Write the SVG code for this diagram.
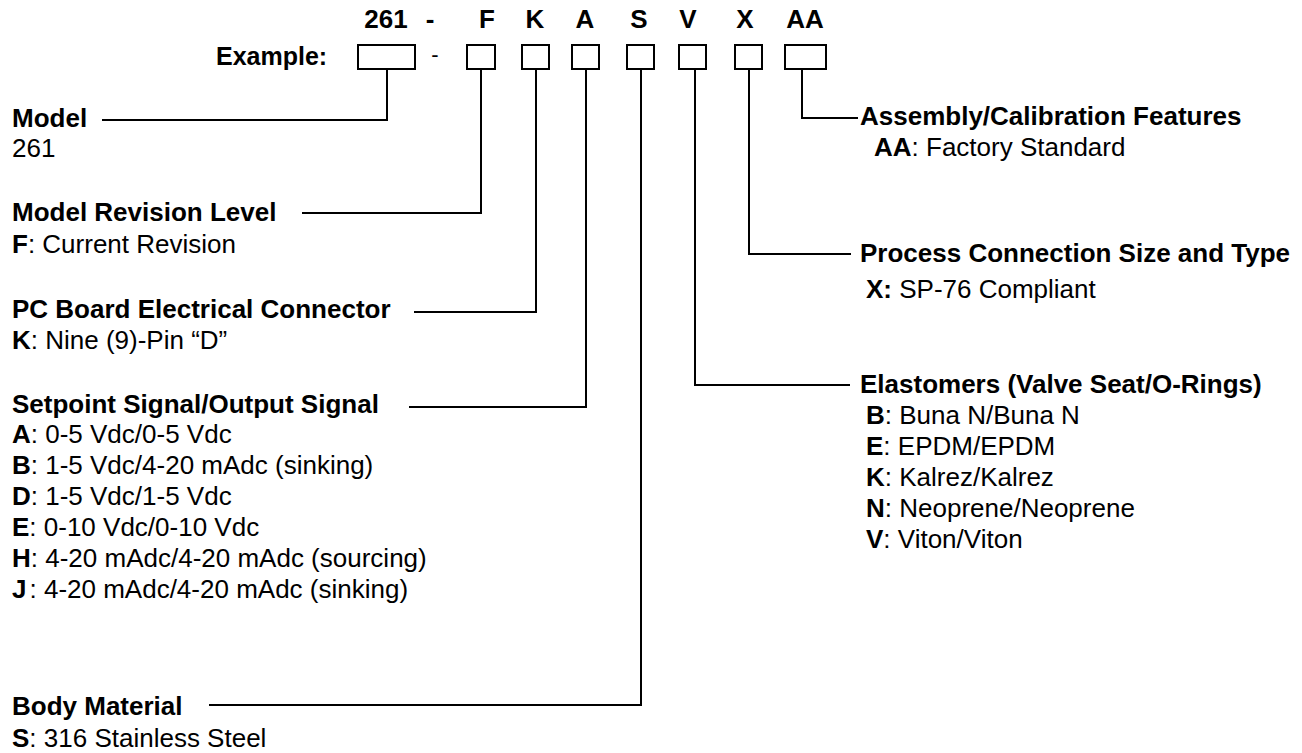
<svg xmlns="http://www.w3.org/2000/svg" width="1302" height="753" viewBox="0 0 1302 753">
<style>
text{font-family:"Liberation Sans",Arial,Helvetica,sans-serif;fill:#000}
.h{font-size:26px;font-weight:bold}
.t{font-size:26px}
.b{font-weight:bold}
.c{text-anchor:middle}
.box{fill:none;stroke:#000;stroke-width:2}
.ln{fill:none;stroke:#000;stroke-width:2}
</style>
<rect width="1302" height="753" fill="#fff"/>
<g id="header">
<text class="h c" x="386" y="28">261</text>
<text class="h c" x="430" y="28">-</text>
<text class="h c" x="487" y="28">F</text>
<text class="h c" x="535" y="28">K</text>
<text class="h c" x="585" y="28">A</text>
<text class="h c" x="639" y="28">S</text>
<text class="h c" x="688" y="28">V</text>
<text class="h c" x="745" y="28">X</text>
<text class="h c" x="805" y="28">AA</text>
<text class="h" x="216" y="65" style="font-size:25px">Example:</text>
<text class="t c" x="435" y="62" style="font-size:22px">-</text>
<rect class="box" x="358" y="45" width="57" height="24"/>
<rect class="box" x="467" y="45" width="28" height="24"/>
<rect class="box" x="522" y="45" width="27" height="24"/>
<rect class="box" x="572" y="45" width="27" height="24"/>
<rect class="box" x="627" y="45" width="27" height="24"/>
<rect class="box" x="679" y="45" width="27" height="24"/>
<rect class="box" x="735" y="45" width="27" height="24"/>
<rect class="box" x="785" y="45" width="41" height="24"/>
</g>
<g id="connectors">
<path class="ln" d="M387,69 V120 H102"/>
<path class="ln" d="M481,69 V213 H302"/>
<path class="ln" d="M536,69 V312 H414"/>
<path class="ln" d="M586,69 V407 H409"/>
<path class="ln" d="M641,69 V705 H209"/>
<path class="ln" d="M695,69 V385 H850"/>
<path class="ln" d="M749,69 V254 H851"/>
<path class="ln" d="M802,69 V118 H858"/>
</g>
<g id="model">
<text class="h" x="12" y="127">Model</text>
<text class="t" x="12" y="157">261</text>
</g>
<g id="revision">
<text class="h" x="12" y="221">Model Revision Level</text>
<text class="t" x="12" y="253"><tspan class="b">F</tspan>: Current Revision</text>
</g>
<g id="connector">
<text class="h" x="12" y="318">PC Board Electrical Connector</text>
<text class="t" x="12" y="349"><tspan class="b">K</tspan>: Nine (9)-Pin “D”</text>
</g>
<g id="signal">
<text class="h" x="12" y="413">Setpoint Signal/Output Signal</text>
<text class="t" x="12" y="443"><tspan class="b">A</tspan>: 0-5 Vdc/0-5 Vdc</text>
<text class="t" x="12" y="474"><tspan class="b">B</tspan>: 1-5 Vdc/4-20 mAdc (sinking)</text>
<text class="t" x="12" y="505"><tspan class="b">D</tspan>: 1-5 Vdc/1-5 Vdc</text>
<text class="t" x="12" y="536"><tspan class="b">E</tspan>: 0-10 Vdc/0-10 Vdc</text>
<text class="t" x="12" y="567"><tspan class="b">H</tspan>: 4-20 mAdc/4-20 mAdc (sourcing)</text>
<text class="t" x="12" y="598"><tspan class="b">J</tspan><tspan dx="3">:</tspan>  4-20 mAdc/4-20 mAdc (sinking)</text>
</g>
<g id="body">
<text class="h" x="12" y="715">Body Material</text>
<text class="t" x="12" y="747"><tspan class="b">S</tspan>: 316 Stainless Steel</text>
</g>
<g id="assembly">
<text class="h" x="860" y="125">Assembly/Calibration Features</text>
<text class="t" x="874" y="156"><tspan class="b">AA</tspan>: Factory Standard</text>
</g>
<g id="process">
<text class="h" x="860" y="262">Process Connection Size and Type</text>
<text class="t" x="866" y="298"><tspan class="b">X:</tspan> SP-76 Compliant</text>
</g>
<g id="elastomers">
<text class="h" x="860" y="393">Elastomers (Valve Seat/O-Rings)</text>
<text class="t" x="866" y="424"><tspan class="b">B</tspan>: Buna N/Buna N</text>
<text class="t" x="866" y="455"><tspan class="b">E</tspan>: EPDM/EPDM</text>
<text class="t" x="866" y="486"><tspan class="b">K</tspan>: Kalrez/Kalrez</text>
<text class="t" x="866" y="517"><tspan class="b">N</tspan>: Neoprene/Neoprene</text>
<text class="t" x="866" y="548"><tspan class="b">V</tspan>: Viton/Viton</text>
</g>
</svg>
